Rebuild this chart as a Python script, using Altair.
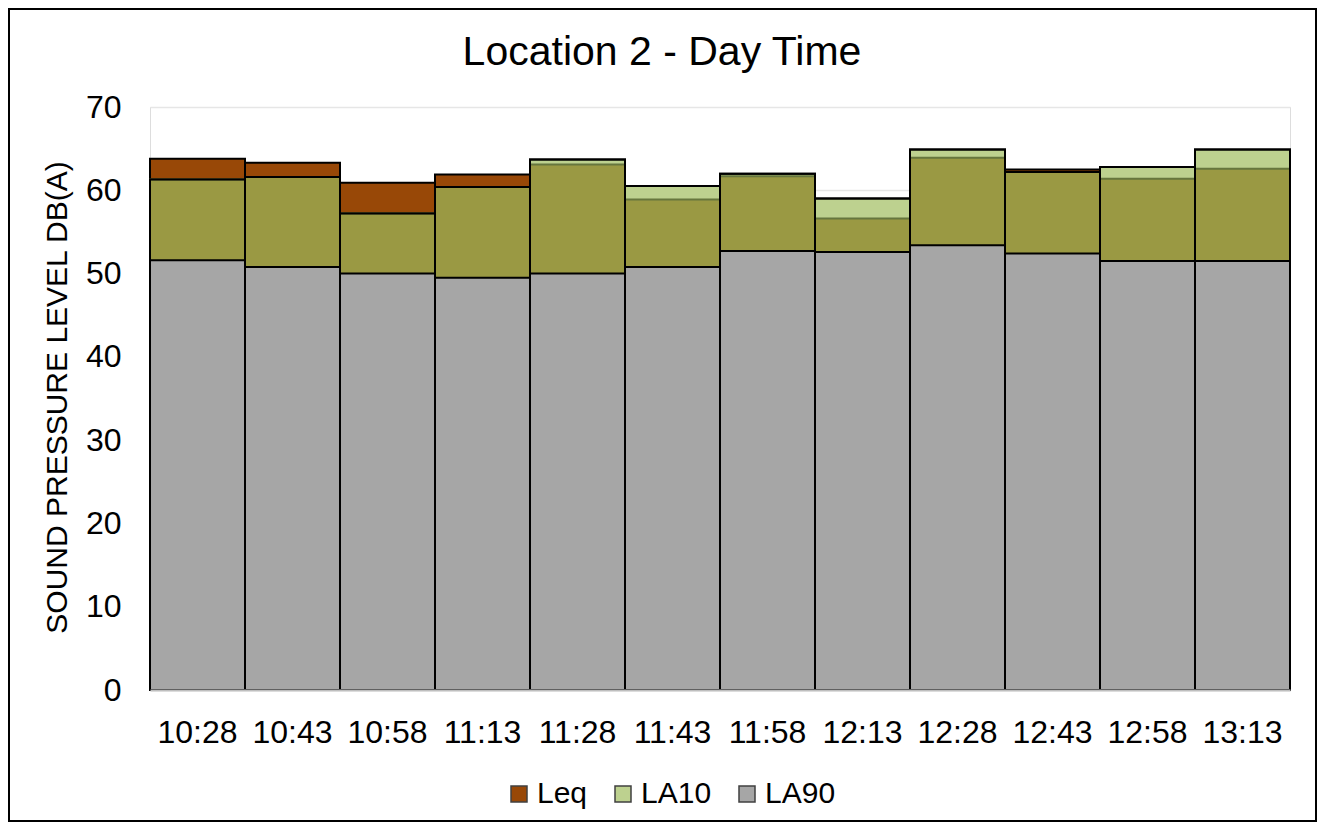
import altair as alt
import pandas as pd

times = ["10:28", "10:43", "10:58", "11:13", "11:28", "11:43",
         "11:58", "12:13", "12:28", "12:43", "12:58", "13:13"]
leq = [63.8, 63.3, 60.9, 61.9, 63.1, 58.9, 61.7, 56.6, 63.9, 62.5, 61.4, 62.6]
la10 = [61.3, 61.6, 57.2, 60.4, 63.7, 60.5, 62.0, 59.0, 64.9, 62.2, 62.8, 64.9]
la90 = [51.6, 50.8, 50.0, 49.5, 50.0, 50.8, 52.7, 52.6, 53.4, 52.4, 51.5, 51.5]

series = ["Leq", "LA10", "LA90"]
colors = ["#984807", "#BDD18F", "#A6A6A6"]
olive = "#9A9943"

df = pd.DataFrame({"time": times, "Leq": leq, "LA10": la10, "LA90": la90})

FONT = "Liberation Sans"
YTITLE = "SOUND PRESSURE LEVEL DB(A)"

x_enc = alt.X(
    "time:N", sort=times,
    scale=alt.Scale(paddingInner=0, paddingOuter=0),
    axis=alt.Axis(title=None, labelAngle=0, labelFontSize=32, labelPadding=27,
                  ticks=False, domainColor="#bfbfbf", domainWidth=2, zindex=1,
                  labelColor="black", labelFont=FONT, grid=False),
)

y_axis = alt.Axis(
    title=YTITLE, values=[0, 10, 20, 30, 40, 50, 60, 70], labelFontSize=32,
    labelPadding=29, ticks=False, domain=False, grid=True, gridColor="#e6e6e6",
    gridWidth=1.5, titleFontSize=30, titleFontWeight="normal", titleX=-93,
    titleY=290, titleBaseline="middle", labelColor="black", titleColor="black",
    labelFont=FONT, titleFont=FONT,
)
y_scale = alt.Scale(domain=[0, 70], nice=False)


def yq(field):
    return alt.Y(field, scale=y_scale, axis=y_axis, title=YTITLE)


color_enc = alt.Color(
    "series:N",
    scale=alt.Scale(domain=series, range=colors),
    legend=alt.Legend(
        title=None, orient="none", legendX=354, legendY=672,
        direction="horizontal", labelFontSize=30, labelFont=FONT,
        labelColor="black", symbolType="square", symbolSize=256,
        symbolStrokeColor="#404040", symbolStrokeWidth=1.5,
        columnPadding=20, labelOffset=3,
    ),
)

base = alt.Chart(df).transform_fold(series, as_=["series", "value"])

leq_bar = base.transform_filter("datum.series == 'Leq'").mark_bar(
    stroke="black", strokeWidth=2
).encode(x=x_enc, y=yq("value:Q"), color=color_enc)

la10_bar = base.transform_filter("datum.series == 'LA10'").mark_bar(
    stroke="black", strokeWidth=2
).encode(x=x_enc, y=yq("value:Q"), color=color_enc)

overlap = alt.Chart(df).transform_calculate(
    ov="min(datum.Leq, datum.LA10)"
).mark_bar(fill=olive, stroke="#66763e", strokeWidth=2).encode(
    x=x_enc, y=yq("ov:Q")
)

la10_outline = alt.Chart(df).mark_bar(
    filled=False, stroke="black", strokeWidth=2
).encode(x=x_enc, y=yq("LA10:Q"))

la90_bar = base.transform_filter("datum.series == 'LA90'").mark_bar(
    stroke="black", strokeWidth=2
).encode(x=x_enc, y=yq("value:Q"), color=color_enc)

frame = alt.Chart(alt.Data(values=[{"a": 1}])).mark_rect(
    filled=False, stroke="black", strokeWidth=2, clip=False
).encode(
    x=alt.value(-141), x2=alt.value(1166), y=alt.value(-98), y2=alt.value(714)
)

chart = alt.layer(
    leq_bar, la10_bar, overlap, la10_outline, la90_bar, frame
).properties(
    width=1140, height=583,
    title=alt.TitleParams(
        "Location 2 - Day Time", fontSize=41, fontWeight="normal", font=FONT,
        anchor="middle", dx=-58, offset=-66, color="black",
    ),
    padding={"left": 142, "top": 99, "right": 27, "bottom": 133},
    autosize=alt.AutoSizeParams(type="none"),
).configure_view(strokeWidth=0).configure(background="white")

chart.save("out.html", embed_options={"renderer": "svg", "actions": False})
